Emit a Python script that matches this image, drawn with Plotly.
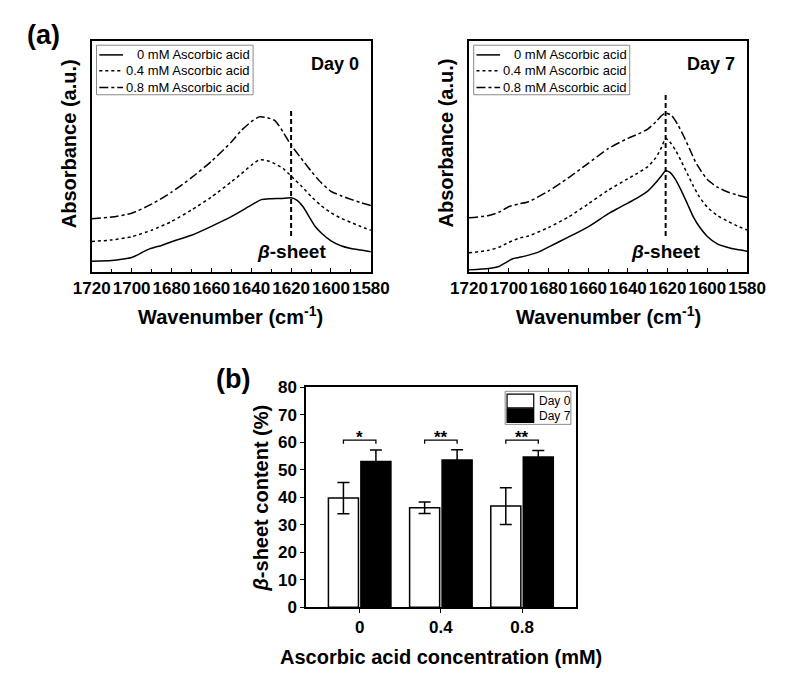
import plotly.graph_objects as go

FONT = "Liberation Sans, Arial, sans-serif"

# ---- FTIR spectra, panel (a) (absorbance in arbitrary units, offset traces) ----
wn_d0 = [1720, 1710, 1705, 1700, 1697, 1694, 1691, 1688, 1685, 1680, 1670, 1660, 1650,
         1640, 1635, 1630, 1625, 1620, 1617, 1614, 1611, 1608, 1605, 1600, 1595, 1590, 1585, 1580]
d0_0mM = [4.5, 4.9, 5.4, 6.2, 7.3, 8.7, 9.9, 10.7, 11.4, 13.0, 15.8, 19.7, 23.9,
          28.9, 31.3, 31.7, 31.8, 32.1, 31.0, 28.2, 23.9, 19.7, 16.9, 13.4, 11.3, 10.1, 9.4, 8.7]

wn_d0b = [1720, 1710, 1700, 1690, 1680, 1670, 1660, 1650, 1645, 1640, 1636, 1632, 1628,
          1624, 1620, 1615, 1610, 1605, 1600, 1595, 1590, 1585, 1580]
d0_04mM = [13.1, 13.8, 15.2, 18.0, 21.8, 26.8, 32.4, 39.0, 42.5, 46.2, 48.5, 48.2, 46.8,
           44.8, 41.5, 37.3, 32.7, 28.7, 25.6, 23.2, 21.4, 19.6, 18.0]
d0_08mM = [23.0, 23.7, 25.4, 29.3, 34.5, 40.8, 47.9, 56.3, 61.3, 65.1, 67.2, 66.9, 65.5,
           60.6, 54.9, 49.3, 43.7, 38.7, 34.9, 33.0, 31.4, 30.0, 28.7]

wn_d7 = [1720, 1710, 1705, 1700, 1698, 1695, 1690, 1685, 1680, 1670, 1660, 1650, 1645, 1640,
         1635, 1630, 1626, 1623, 1621, 1619, 1616, 1613, 1610, 1607, 1604, 1600, 1595, 1590, 1585, 1580]
d7_0mM = [0.8, 1.4, 2.3, 4.7, 5.6, 6.2, 7.2, 8.5, 10.7, 15.0, 19.5, 25.1, 27.5, 29.8,
          32.2, 35.0, 38.6, 41.8, 43.8, 43.2, 40.0, 35.0, 29.4, 23.7, 19.5, 15.3, 12.1, 10.6, 9.6, 8.9]

wn_d7b = [1720, 1710, 1705, 1700, 1695, 1690, 1680, 1670, 1660, 1650, 1640, 1635, 1630, 1626,
          1623, 1621, 1619, 1616, 1613, 1610, 1607, 1604, 1600, 1595, 1590, 1585, 1580]
d7_04mM = [8.2, 9.3, 10.6, 12.7, 14.5, 15.5, 19.2, 23.7, 29.4, 35.3, 40.4, 42.8, 45.6, 49.4,
           54.1, 57.9, 56.5, 52.7, 47.7, 42.4, 37.1, 32.5, 28.0, 24.4, 22.0, 19.9, 18.1]

wn_d7c = [1720, 1710, 1705, 1700, 1695, 1690, 1680, 1670, 1660, 1650, 1640, 1635, 1630, 1626,
          1623, 1621, 1618, 1615, 1612, 1609, 1606, 1603, 1600, 1595, 1590, 1585, 1580]
d7_08mM = [23.4, 24.4, 25.8, 28.2, 29.4, 30.4, 35.0, 40.7, 47.0, 53.4, 57.9, 59.7, 61.9, 65.0,
           67.8, 68.9, 67.8, 64.0, 59.0, 53.4, 47.7, 43.5, 40.0, 36.7, 34.7, 33.3, 32.2]

series_names = ["0 mM Ascorbic acid", "0.4 mM Ascorbic acid", "0.8 mM Ascorbic acid"]
series_dash = ["solid", "dot", "dashdot"]

beta_sheet_wn = [1620, 1621]        # marker line position, Day 0 / Day 7
beta_line_y = [[15.5, 70.1], [15.5, 77.1]]
day_labels = ["Day 0", "Day 7"]

# ---- beta-sheet content, panel (b) ----
conc = ["0", "0.4", "0.8"]
day0_mean = [39.7, 36.2, 36.8]
day0_err = [5.7, 2.1, 6.7]
day7_mean = [53.0, 53.6, 54.7]
day7_err = [4.2, 3.7, 2.3]
signif = ["*", "**", "**"]
bracket_y = 60.8

W, H = 800, 684
def px(x):
    return x / W
def py(y):
    return 1 - y / H

fig = go.Figure()

spec_axes = [("x", "y", [px(68), px(361)]), ("x2", "y2", [px(464), px(756)])]
spectra = [
    [(wn_d0, d0_0mM), (wn_d0b, d0_04mM), (wn_d0b, d0_08mM)],
    [(wn_d7, d7_0mM), (wn_d7b, d7_04mM), (wn_d7c, d7_08mM)],
]

for p, (xa, ya, dom) in enumerate(spec_axes):
    for s, (wx, wy) in enumerate(spectra[p]):
        fig.add_trace(go.Scatter(
            x=wx, y=wy, mode="lines", name=series_names[s], showlegend=False,
            line=dict(color="black", width=1.5, dash=series_dash[s], shape="spline", smoothing=0.6),
            xaxis=xa, yaxis=ya,
        ))
    # beta-sheet marker line
    fig.add_trace(go.Scatter(
        x=[beta_sheet_wn[p]] * 2, y=beta_line_y[p], mode="lines", showlegend=False,
        line=dict(color="black", width=2, dash="5px,3px"), xaxis=xa, yaxis=ya,
    ))
    fig.add_annotation(x=beta_sheet_wn[p], y=8.6, xref=xa, yref=ya, showarrow=False,
                       xanchor="center", yanchor="middle",
                       text="<i>β</i>-sheet", font=dict(family=FONT, size=19, color="black", weight="bold"))
    fig.add_annotation(x=1598, y=90, xref=xa, yref=ya, showarrow=False,
                       xanchor="center", yanchor="middle",
                       text=day_labels[p], font=dict(family=FONT, size=18, color="black", weight="bold"))

    # legend box drawn inside the panel
    xd = xa + " domain"
    yd = ya + " domain"
    fig.add_shape(type="rect", xref=xd, yref=yd, x0=0.017, x1=0.578, y0=0.768, y1=0.983,
                  line=dict(color="#8a8a8a", width=1), fillcolor="rgba(0,0,0,0)")
    for s, ry in enumerate([0.941, 0.872, 0.800]):
        fig.add_shape(type="line", xref=xd, yref=yd, x0=0.027, x1=0.112, y0=ry, y1=ry,
                      line=dict(color="black", width=1.5, dash=series_dash[s]))
        fig.add_annotation(xref=xd, yref=yd, x=0.574, y=ry, xanchor="right", yanchor="middle",
                           showarrow=False, text=series_names[s],
                           font=dict(family=FONT, size=13, color="black"))

axis_line = dict(showline=True, linecolor="black", linewidth=1.5, mirror=True, showgrid=False, zeroline=False)

for i, (xa, ya, dom) in enumerate(spec_axes):
    xkey = "xaxis" if i == 0 else "xaxis2"
    ykey = "yaxis" if i == 0 else "yaxis2"
    fig.update_layout(**{
        xkey: dict(domain=dom, range=[1720, 1580], tickmode="linear", tick0=1580, dtick=20,
                   tickangle=0, ticks="inside", ticklen=4, tickwidth=1.2, tickcolor="black",
                   minor=dict(ticks="inside", dtick=10, ticklen=3, tickcolor="black"),
                   tickfont=dict(family=FONT, size=17, color="black", weight="bold"),
                   anchor=ya, **axis_line),
        ykey: dict(domain=[py(262), py(25)], range=[0, 100], showticklabels=False, ticks="",
                   anchor=xa, **axis_line),
    })

# ---- panel (b) ----
cat_idx = list(range(len(conc)))
bar_w = 0.37
fig.add_trace(go.Bar(
    x=cat_idx, y=day0_mean, name="Day 0", width=bar_w, offset=-bar_w - 0.015,
    marker=dict(color="white", line=dict(color="black", width=1.5)),
    error_y=dict(type="data", array=day0_err, color="black", thickness=1.5, width=6),
    xaxis="x3", yaxis="y3", showlegend=False,
))
fig.add_trace(go.Bar(
    x=cat_idx, y=day7_mean, name="Day 7", width=bar_w, offset=0.015,
    marker=dict(color="black", line=dict(color="black", width=1.5)),
    error_y=dict(type="data", array=day7_err, color="black", thickness=1.5, width=6),
    xaxis="x3", yaxis="y3", showlegend=False,
))

# significance brackets
for i, star in enumerate(signif):
    left = i - bar_w / 2 - 0.015
    right = i + bar_w / 2 + 0.015
    fig.add_trace(go.Scatter(
        x=[left, left, right, right], y=[bracket_y - 1.3, bracket_y, bracket_y, bracket_y - 1.3],
        mode="lines", line=dict(color="black", width=1.3), showlegend=False,
        xaxis="x3", yaxis="y3",
    ))
    fig.add_annotation(x=i, y=bracket_y + 0.9, xref="x3", yref="y3", showarrow=False,
                       xanchor="center", yanchor="middle", text=star,
                       font=dict(family=FONT, size=17, color="black", weight="bold"))

fig.update_layout(
    xaxis3=dict(domain=[px(293), px(576)], range=[-0.66, 2.66], tickmode="array",
                tickvals=cat_idx, ticktext=conc, ticks="outside", ticklen=4, tickcolor="black",
                tickfont=dict(family=FONT, size=17, color="black", weight="bold"),
                anchor="y3", **axis_line),
    yaxis3=dict(domain=[py(607), py(381)], range=[0, 80], dtick=10, ticks="outside", ticklen=4,
                tickcolor="black", tickfont=dict(family=FONT, size=17, color="black", weight="bold"),
                anchor="x3", **axis_line),
)

# legend of panel (b)
fig.add_shape(type="rect", xref="x3 domain", yref="y3 domain",
              x0=(502 - 293) / 283, x1=(571 - 293) / 283, y0=(607 - 419) / 226, y1=(607 - 385) / 226,
              line=dict(color="#8a8a8a", width=1))
fig.add_shape(type="rect", xref="x3 domain", yref="y3 domain",
              x0=(504 - 293) / 283, x1=(532 - 293) / 283, y0=(607 - 402) / 226, y1=(607 - 388) / 226,
              line=dict(color="black", width=1.2), fillcolor="white")
fig.add_shape(type="rect", xref="x3 domain", yref="y3 domain",
              x0=(504 - 293) / 283, x1=(532 - 293) / 283, y0=(607 - 417) / 226, y1=(607 - 403) / 226,
              line=dict(color="black", width=1.2), fillcolor="black")
for lbl, yy in zip(["Day 0", "Day 7"], [395, 410]):
    fig.add_annotation(xref="paper", yref="paper", x=px(535), y=py(yy), xanchor="left",
                       yanchor="middle", showarrow=False, text=lbl,
                       font=dict(family=FONT, size=12, color="black"))

# titles and panel labels
title_font = dict(family=FONT, size=20, color="black", weight="bold")
texts = [
    ("Wavenumber (cm<sup>-1</sup>)", 214, 307, 0),
    ("Wavenumber (cm<sup>-1</sup>)", 610, 307, 0),
    ("Absorbance (a.u.)", 45, 130, -90),
    ("Absorbance (a.u.)", 440, 130, -90),
    ("Ascorbic acid concentration (mM)", 435, 658, 0),
    ("<i>β</i>-sheet content (%)", 246, 495, -90),
]
for t, x, y, ang in texts:
    fig.add_annotation(xref="paper", yref="paper", x=px(x), y=py(y), showarrow=False,
                       xanchor="center", yanchor="middle",
                       text=t, textangle=ang, font=title_font)
for t, x, y in [("(a)", 17, 19), ("(b)", 216, 372)]:
    fig.add_annotation(xref="paper", yref="paper", x=px(x), y=py(y), showarrow=False,
                       xanchor="center", yanchor="middle",
                       text=t, font=dict(family=FONT, size=27, color="black", weight="bold"))

fig.update_layout(
    width=W, height=H, margin=dict(l=0, r=0, t=0, b=0),
    paper_bgcolor="white", plot_bgcolor="white",
    showlegend=False,
)

fig.write_html("out.html")
